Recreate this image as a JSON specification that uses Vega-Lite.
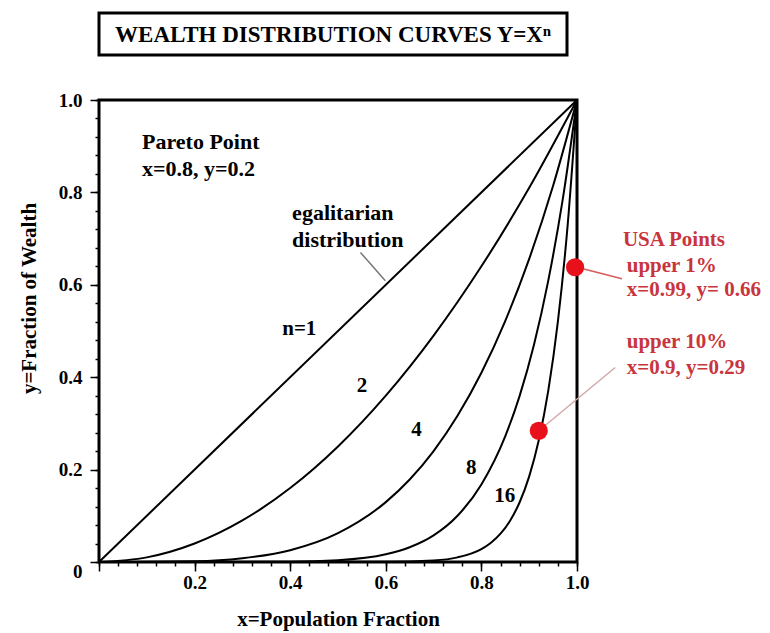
{
  "$schema": "https://vega.github.io/schema/vega-lite/v6.json",
  "padding": {"left": 16, "top": 11, "right": 0, "bottom": 0},
  "spacing": 32,
  "config": {
    "view": {"stroke": "black", "strokeWidth": 3},
    "font": "Liberation Serif",
    "axis": {
      "grid": false, "domain": false, "tickColor": "black", "tickWidth": 1.5,
      "labelColor": "black", "titleColor": "black",
      "labelFont": "Liberation Serif", "titleFont": "Liberation Serif",
      "labelFontWeight": "bold", "titleFontWeight": "bold",
      "labelFontSize": 19, "titleFontSize": 21
    }
  },
  "vconcat": [
    {
      "width": 468,
      "height": 42,
      "view": {"stroke": "black", "strokeWidth": 3, "fill": "white"},
      "data": {"values": [{"title": "WEALTH DISTRIBUTION CURVES Y=Xⁿ"}]},
      "mark": {"type": "text", "font": "Liberation Serif", "fontWeight": "bold", "fontSize": 23, "color": "black", "baseline": "middle", "align": "center", "dy": 1},
      "encoding": {"text": {"field": "title", "type": "nominal"}}
    },
    {
      "width": 478,
      "height": 462,
      "resolve": {"axis": {"x": "independent", "y": "independent"}},
      "layer": [
        {
          "data": {"values": [
            {"n": 1, "x": 0, "y": 0}, {"n": 1, "x": 1, "y": 1},
            {"n": 2, "x": 0, "y": 0}, {"n": 2, "x": 0.1, "y": 0.01}, {"n": 2, "x": 0.2, "y": 0.04}, {"n": 2, "x": 0.3, "y": 0.09}, {"n": 2, "x": 0.4, "y": 0.16}, {"n": 2, "x": 0.5, "y": 0.25}, {"n": 2, "x": 0.6, "y": 0.36}, {"n": 2, "x": 0.7, "y": 0.49}, {"n": 2, "x": 0.8, "y": 0.64}, {"n": 2, "x": 0.9, "y": 0.81}, {"n": 2, "x": 1, "y": 1},
            {"n": 4, "x": 0, "y": 0}, {"n": 4, "x": 0.2, "y": 0.0016}, {"n": 4, "x": 0.3, "y": 0.0081}, {"n": 4, "x": 0.4, "y": 0.0256}, {"n": 4, "x": 0.5, "y": 0.0625}, {"n": 4, "x": 0.6, "y": 0.1296}, {"n": 4, "x": 0.65, "y": 0.1785}, {"n": 4, "x": 0.7, "y": 0.2401}, {"n": 4, "x": 0.75, "y": 0.3164}, {"n": 4, "x": 0.8, "y": 0.4096}, {"n": 4, "x": 0.85, "y": 0.522}, {"n": 4, "x": 0.9, "y": 0.6561}, {"n": 4, "x": 0.95, "y": 0.8145}, {"n": 4, "x": 1, "y": 1},
            {"n": 8, "x": 0, "y": 0}, {"n": 8, "x": 0.4, "y": 0.00066}, {"n": 8, "x": 0.5, "y": 0.0039}, {"n": 8, "x": 0.6, "y": 0.0168}, {"n": 8, "x": 0.65, "y": 0.0319}, {"n": 8, "x": 0.7, "y": 0.0576}, {"n": 8, "x": 0.75, "y": 0.1001}, {"n": 8, "x": 0.8, "y": 0.1678}, {"n": 8, "x": 0.85, "y": 0.2725}, {"n": 8, "x": 0.88, "y": 0.3596}, {"n": 8, "x": 0.91, "y": 0.4703}, {"n": 8, "x": 0.94, "y": 0.6096}, {"n": 8, "x": 0.97, "y": 0.7837}, {"n": 8, "x": 1, "y": 1},
            {"n": 16, "x": 0, "y": 0}, {"n": 16, "x": 0.6, "y": 0.00028}, {"n": 16, "x": 0.7, "y": 0.0033}, {"n": 16, "x": 0.75, "y": 0.01}, {"n": 16, "x": 0.8, "y": 0.0281}, {"n": 16, "x": 0.82, "y": 0.0418}, {"n": 16, "x": 0.84, "y": 0.0614}, {"n": 16, "x": 0.86, "y": 0.0895}, {"n": 16, "x": 0.88, "y": 0.1293}, {"n": 16, "x": 0.9, "y": 0.1853}, {"n": 16, "x": 0.92, "y": 0.2634}, {"n": 16, "x": 0.94, "y": 0.3716}, {"n": 16, "x": 0.96, "y": 0.5204}, {"n": 16, "x": 0.98, "y": 0.7238}, {"n": 16, "x": 1, "y": 1}
          ]},
          "mark": {"type": "line", "color": "black", "strokeWidth": 2, "interpolate": "monotone"},
          "encoding": {
            "x": {
              "field": "x", "type": "quantitative",
              "scale": {"domain": [0, 1], "nice": false, "zero": false},
              "axis": {
                "orient": "bottom", "values": [0, 0.2, 0.4, 0.6, 0.8, 1],
                "labelExpr": "datum.value == 0 ? '' : format(datum.value, '.1f')",
                "tickSize": 9, "labelPadding": 2, "labelFlush": false, "labelOverlap": false,
                "title": "x=Population Fraction", "titleY": 57, "titleBaseline": "middle"
              }
            },
            "y": {
              "field": "y", "type": "quantitative",
              "scale": {"domain": [0, 1], "nice": false, "zero": false},
              "axis": {
                "orient": "left", "values": [0, 0.2, 0.4, 0.6, 0.8, 1],
                "labelExpr": "datum.value == 0 ? '0' : format(datum.value, '.1f')",
                "labelBaseline": {"condition": {"test": "datum.value == 0", "value": "top"}, "value": "middle"},
                "tickSize": 9, "labelPadding": 8, "labelOverlap": false,
                "title": "y=Fraction of Wealth", "titleX": -70, "titleY": 198, "titleBaseline": "middle", "titleAngle": -90
              }
            },
            "detail": {"field": "n", "type": "nominal"}
          }
        },
        {
          "data": {"values": [
            {"kind": "egal", "x": 0.547, "y": 0.67, "x2": 0.599, "y2": 0.609},
            {"kind": "usa1", "x": 0.996, "y": 0.639, "x2": 1.094, "y2": 0.613},
            {"kind": "usa10", "x": 0.92, "y": 0.284, "x2": 1.08, "y2": 0.421}
          ]},
          "mark": {"type": "rule", "strokeWidth": 1.5},
          "encoding": {
            "x": {
              "field": "x", "type": "quantitative",
              "axis": {
                "orient": "bottom",
                "values": [0, 0.04, 0.08, 0.12, 0.16, 0.2, 0.24, 0.28, 0.32, 0.36, 0.4, 0.44, 0.48, 0.52, 0.56, 0.6, 0.64, 0.68, 0.72, 0.76, 0.8, 0.84, 0.88, 0.92, 0.96, 1],
                "labels": false, "tickSize": 4, "title": null, "domain": false
              }
            },
            "y": {
              "field": "y", "type": "quantitative",
              "axis": {
                "orient": "left",
                "values": [0, 0.04, 0.08, 0.12, 0.16, 0.2, 0.24, 0.28, 0.32, 0.36, 0.4, 0.44, 0.48, 0.52, 0.56, 0.6, 0.64, 0.68, 0.72, 0.76, 0.8, 0.84, 0.88, 0.92, 0.96, 1],
                "labels": false, "tickSize": 4, "title": null, "domain": false
              }
            },
            "x2": {"field": "x2"},
            "y2": {"field": "y2"},
            "color": {"field": "kind", "type": "nominal", "scale": {"domain": ["egal", "usa1", "usa10"], "range": ["#777777", "#d65c5c", "#d4a9a9"]}, "legend": null}
          }
        },
        {
          "data": {"values": [
            {"x": 0.996, "y": 0.638},
            {"x": 0.92, "y": 0.284}
          ]},
          "mark": {"type": "circle", "size": 330, "color": "#e8101a", "opacity": 1},
          "encoding": {
            "x": {"field": "x", "type": "quantitative", "axis": null},
            "y": {"field": "y", "type": "quantitative", "axis": null}
          }
        },
        {
          "data": {"values": [
            {"x": 0.09, "y": 0.909, "label": "Pareto Point"},
            {"x": 0.09, "y": 0.851, "label": "x=0.8, y=0.2"},
            {"x": 0.404, "y": 0.755, "label": "egalitarian"},
            {"x": 0.404, "y": 0.697, "label": "distribution"}
          ]},
          "mark": {"type": "text", "align": "left", "baseline": "middle", "fontSize": 22, "fontWeight": "bold", "font": "Liberation Serif", "color": "black"},
          "encoding": {
            "x": {"field": "x", "type": "quantitative", "axis": null},
            "y": {"field": "y", "type": "quantitative", "axis": null},
            "text": {"field": "label", "type": "nominal"}
          }
        },
        {
          "data": {"values": [
            {"x": 0.419, "y": 0.504, "label": "n=1"},
            {"x": 0.55, "y": 0.381, "label": "2"},
            {"x": 0.664, "y": 0.286, "label": "4"},
            {"x": 0.779, "y": 0.203, "label": "8"},
            {"x": 0.849, "y": 0.143, "label": "16"}
          ]},
          "mark": {"type": "text", "align": "center", "baseline": "middle", "fontSize": 21, "fontWeight": "bold", "font": "Liberation Serif", "color": "black"},
          "encoding": {
            "x": {"field": "x", "type": "quantitative", "axis": null},
            "y": {"field": "y", "type": "quantitative", "axis": null},
            "text": {"field": "label", "type": "nominal"}
          }
        },
        {
          "data": {"values": [
            {"x": 1.096, "y": 0.697, "label": "USA Points"},
            {"x": 1.104, "y": 0.641, "label": "upper 1%"},
            {"x": 1.104, "y": 0.589, "label": "x=0.99, y= 0.66"},
            {"x": 1.104, "y": 0.476, "label": "upper 10%"},
            {"x": 1.104, "y": 0.42, "label": "x=0.9, y=0.29"}
          ]},
          "mark": {"type": "text", "align": "left", "baseline": "middle", "fontSize": 21, "fontWeight": "bold", "font": "Liberation Serif", "color": "#c9353d"},
          "encoding": {
            "x": {"field": "x", "type": "quantitative", "axis": null},
            "y": {"field": "y", "type": "quantitative", "axis": null},
            "text": {"field": "label", "type": "nominal"}
          }
        }
      ]
    }
  ]
}
